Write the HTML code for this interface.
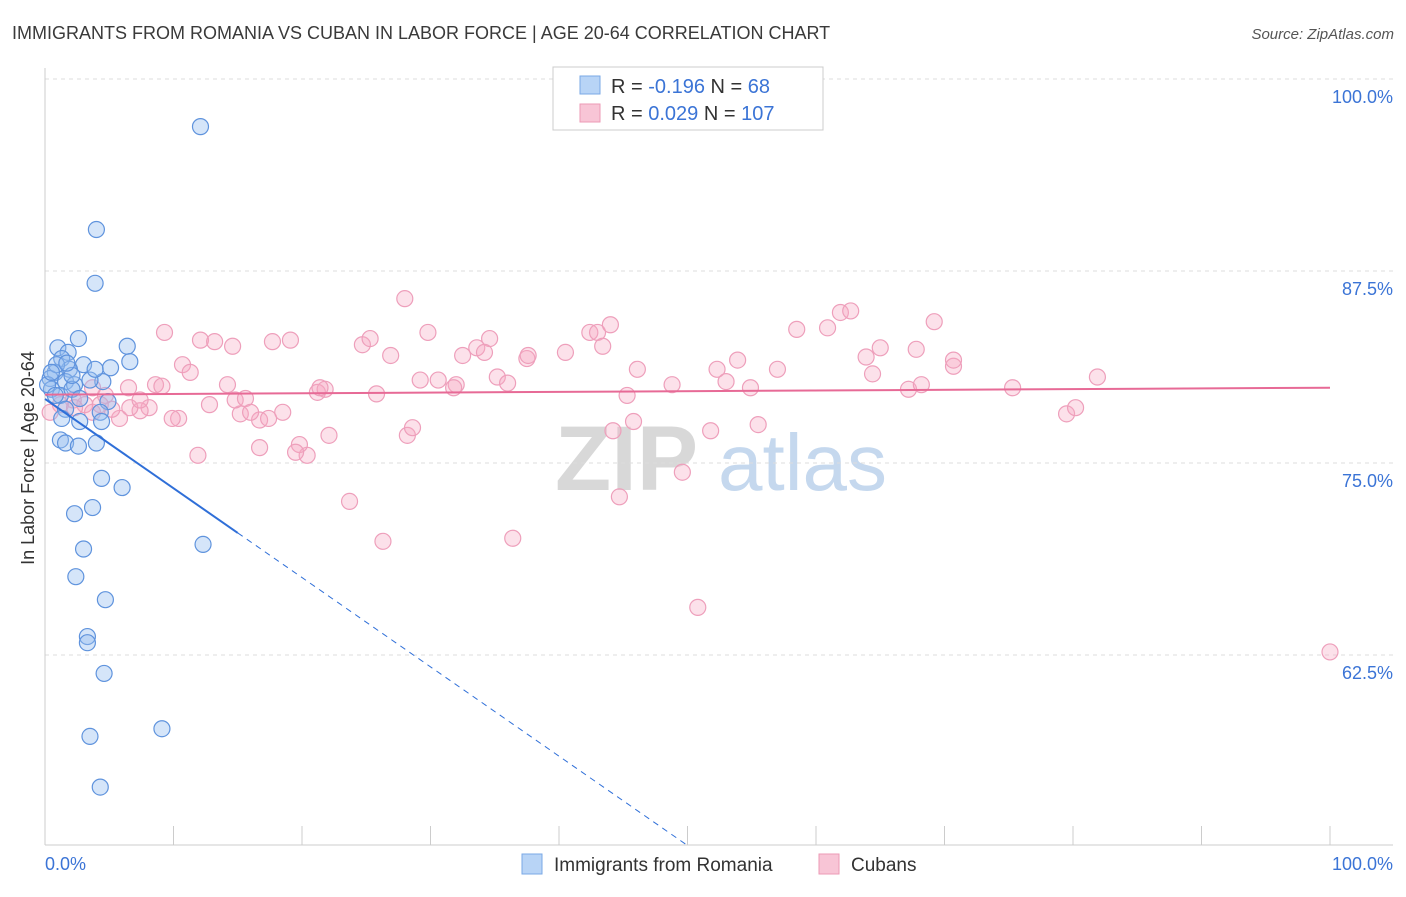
<!DOCTYPE html>
<html><head><meta charset="utf-8">
<style>
body{margin:0;background:#fff;font-family:"Liberation Sans",sans-serif;}
svg text{font-family:"Liberation Sans",sans-serif;}
</style></head>
<body>
<svg id="chart" width="1406" height="892" xmlns="http://www.w3.org/2000/svg">
<text x="12" y="39" font-size="18" fill="#3a3a3a">IMMIGRANTS FROM ROMANIA VS CUBAN IN LABOR FORCE | AGE 20-64 CORRELATION CHART</text>
<text x="1394" y="39" font-size="15" fill="#555" text-anchor="end" font-style="italic">Source: ZipAtlas.com</text>
<g>
<text x="555" y="490" font-size="92" fill="#d8d8d8" font-family="Liberation Serif" font-weight="bold">ZIP</text>
<text x="718" y="490" font-size="80" fill="#c5d8ee">atlas</text>
</g>
<g id="grid"></g>
<g id="axes"></g>
<g id="pts"></g>
<g id="trend"></g>
<g>
<rect x="553" y="67" width="270" height="63" fill="#fff" stroke="#ccc"/>
<rect x="580" y="76" width="20" height="18" fill="#b8d4f6" stroke="#7aa8e6"/>
<rect x="580" y="104" width="20" height="18" fill="#f8c5d6" stroke="#ec9ab6"/>
<text x="611" y="93" font-size="20" fill="#333">R = <tspan fill="#3b74d6">-0.196</tspan>   N = <tspan fill="#3b74d6"> 68</tspan></text>
<text x="611" y="120" font-size="20" fill="#333">R = <tspan fill="#3b74d6"> 0.029</tspan>   N = <tspan fill="#3b74d6">107</tspan></text>
</g>
<g>
<rect x="522" y="854" width="20" height="20" fill="#b8d4f6" stroke="#7aa8e6"/>
<text x="554" y="871" font-size="19" fill="#333">Immigrants from Romania</text>
<rect x="819" y="854" width="20" height="20" fill="#f8c5d6" stroke="#ec9ab6"/>
<text x="851" y="871" font-size="19" fill="#333">Cubans</text>
</g>
<text transform="translate(34,458) rotate(-90)" font-size="18" fill="#333" text-anchor="middle">In Labor Force | Age 20-64</text>
</svg>
<script>
const yTicks=[100,87.5,75,62.5];
const yTickLabels=["100.0%","87.5%","75.0%","62.5%"];
const xTickValues=[0,10,20,30,40,50,60,70,80,90,100];
const blueX=[12.1,4.0,3.9,2.6,6.4,1.0,1.8,6.6,3.0,5.1,1.3,1.9,0.8,0.4,1.6,2.3,4.5,0.5,1.2,2.1,2.7,4.9,1.6,4.3,1.3,2.7,4.4,1.2,1.6,2.6,4.0,4.4,3.7,6.0,2.3,3.0,12.3,2.4,4.7,3.3,3.3,4.6,9.1,3.5,4.3,0.2,0.8,2.1,3.5,0.9,1.7,0.5,3.9];
const blueY=[96.9,90.2,86.7,83.1,82.6,82.5,82.2,81.6,81.4,81.2,81.8,81.1,80.9,80.5,80.3,80.1,80.3,79.8,79.4,79.8,79.2,79.0,78.5,78.3,77.9,77.7,77.7,76.5,76.3,76.1,76.3,74.0,72.1,73.4,71.7,69.4,69.7,67.6,66.1,63.7,63.3,61.3,57.7,57.2,53.9,80.1,79.4,80.7,80.4,81.4,81.5,80.9,81.1];
const pinkX=[28.0,9.3,12.1,13.2,14.6,17.7,19.1,24.7,25.3,26.9,29.8,32.5,34.6,33.6,34.2,37.5,37.6,40.5,42.4,43.0,43.4,44.0,46.1,48.8,52.3,53.9,53.0,54.9,57.0,58.5,60.9,61.9,62.7,65.0,63.9,64.4,67.8,69.2,70.7,70.7,67.2,68.2,75.3,79.5,80.2,81.9,100.0,50.8,44.7,49.6,36.4,26.3,23.7,11.9,16.7,20.4,19.8,19.5,22.1,28.2,28.6,16.7,15.2,14.8,12.8,10.4,9.9,8.1,7.4,8.6,6.5,5.8,4.7,3.7,3.1,2.2,1.2,0.4,10.7,11.3,14.2,15.6,17.4,18.5,21.2,21.8,21.4,25.8,29.2,30.6,32.0,31.8,35.2,36.0,45.3,44.2,45.8,51.8,55.5,9.1,6.6,5.2,16.0,7.4,2.3,3.7,4.3];
const pinkY=[85.7,83.5,83.0,82.9,82.6,82.9,83.0,82.7,83.1,82.0,83.5,82.0,83.1,82.5,82.2,81.8,82.0,82.2,83.5,83.5,82.6,84.0,81.1,80.1,81.1,81.7,80.3,79.9,81.1,83.7,83.8,84.8,84.9,82.5,81.9,80.8,82.4,84.2,81.3,81.7,79.8,80.1,79.9,78.2,78.6,80.6,62.7,65.6,72.8,74.4,70.1,69.9,72.5,75.5,76.0,75.5,76.2,75.7,76.8,76.8,77.3,77.8,78.2,79.1,78.8,77.9,77.9,78.6,78.4,80.1,79.9,77.9,79.4,79.9,78.8,79.1,78.8,78.3,81.4,80.9,80.1,79.2,77.9,78.3,79.6,79.8,79.9,79.5,80.4,80.4,80.1,79.9,80.6,80.2,79.4,77.1,77.7,77.1,77.5,80.0,78.6,78.5,78.3,79.1,78.6,78.3,78.8];
const blueTrend=[79.17,50.1];
const pinkTrend=[79.45,79.9];

const NS="http://www.w3.org/2000/svg";
const X0=45,X1=1330,YTOP=79,PXPER=192/12.5,YBOT=845;
const sx=v=>X0+(X1-X0)*v/100;
const sy=v=>YTOP+(100-v)*PXPER;
function mk(tag,attrs,parent){const e=document.createElementNS(NS,tag);for(const k in attrs)e.setAttribute(k,attrs[k]);parent.appendChild(e);return e;}
const grid=document.getElementById('grid'),axes=document.getElementById('axes'),pts=document.getElementById('pts'),trend=document.getElementById('trend');
yTicks.forEach((t,i)=>{
  const l=mk('line',{x1:X0,x2:1393,y1:sy(t),y2:sy(t),stroke:'#ddd','stroke-dasharray':'4,4'},grid);
  
  
  const tx=mk('text',{x:1393,y:sy(t)+24,'font-size':18,fill:'#3b74d6','text-anchor':'end'},axes);
  tx.textContent=yTickLabels[i];
  
  
});
const ya=mk('line',{x1:X0,x2:X0,y1:68,y2:YBOT,stroke:'#ccc'},axes);


const xa=mk('line',{x1:X0,x2:1393,y1:YBOT,y2:YBOT,stroke:'#ccc'},axes);


xTickValues.forEach(v=>{
  const t=mk('line',{x1:sx(v),x2:sx(v),y1:826,y2:YBOT,stroke:'#ccc'},axes);
  
  
});
const xl0=mk('text',{x:45,y:870,'font-size':18,fill:'#3b74d6'},axes);xl0.textContent='0.0%';


const xl1=mk('text',{x:1393,y:870,'font-size':18,fill:'#3b74d6','text-anchor':'end'},axes);xl1.textContent='100.0%';


pinkX.forEach((v,i)=>{
  const c=mk('circle',{cx:sx(v),cy:sy(pinkY[i]),r:8,fill:'rgba(246,170,196,0.35)',stroke:'#ee9fbb','stroke-width':1.2},pts);
  
  
});
blueX.forEach((v,i)=>{
  const c=mk('circle',{cx:sx(v),cy:sy(blueY[i]),r:8,fill:'rgba(150,190,240,0.4)',stroke:'#5f93dd','stroke-width':1.2},pts);
  
  
});
const bAt=x=>blueTrend[0]+(blueTrend[1]-blueTrend[0])*x/50;
const b1=mk('line',{x1:sx(0),y1:sy(bAt(0)),x2:sx(15),y2:sy(bAt(15)),stroke:'#2f6fd8','stroke-width':2},trend);


const b2=mk('line',{x1:sx(15),y1:sy(bAt(15)),x2:sx(50),y2:sy(bAt(50)),stroke:'#2f6fd8','stroke-width':1,'stroke-dasharray':'6,5'},trend);


const p1=mk('line',{x1:sx(0),y1:sy(pinkTrend[0]),x2:sx(100),y2:sy(pinkTrend[1]),stroke:'#e76a96','stroke-width':2},trend);


</script>
</body></html>
